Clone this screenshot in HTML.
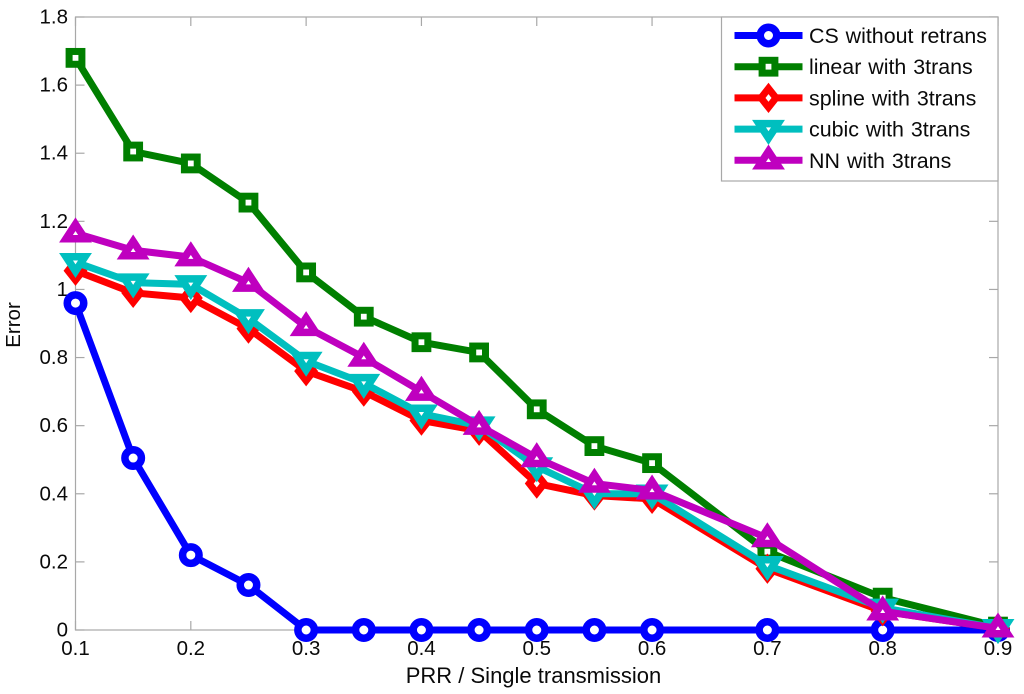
<!DOCTYPE html>
<html>
<head>
<meta charset="utf-8">
<title>Error vs PRR chart</title>
<style>
html,body{margin:0;padding:0;background:#fff;}
svg{display:block;}
text{font-family:"Liberation Sans",sans-serif;fill:#0a0a0a;}
</style>
</head>
<body>
<svg id="chart" xmlns="http://www.w3.org/2000/svg" width="1024" height="694" viewBox="0 0 1024 694">
  <rect x="0" y="0" width="1024" height="694" fill="#fff"/>
  <text x="533.5" y="683" font-size="22" text-anchor="middle">PRR / Single transmission</text>
  <text transform="translate(20,325) rotate(-90)" font-size="20.5" text-anchor="middle">Error</text>
</svg>
<script>
const xValues = [0.1,0.15,0.2,0.25,0.3,0.35,0.4,0.45,0.5,0.55,0.6,0.7,0.8,0.9];
const csValues = [0.96,0.505,0.22,0.132,0,0,0,0,0,0,0,0,0,0];
const linearValues = [1.68,1.405,1.37,1.255,1.05,0.92,0.845,0.815,0.648,0.54,0.49,0.23,0.095,0.01];
const splineValues = [1.055,0.99,0.975,0.885,0.76,0.70,0.615,0.585,0.43,0.395,0.385,0.18,0.055,0.005];
const cubicValues = [1.08,1.02,1.015,0.915,0.79,0.725,0.635,0.60,0.48,0.40,0.40,0.19,0.065,0.005];
const nnValues = [1.165,1.115,1.095,1.02,0.89,0.80,0.70,0.60,0.505,0.43,0.41,0.27,0.055,0.005];
const xTicks = [0.1,0.2,0.3,0.4,0.5,0.6,0.7,0.8,0.9];
const yTicks = [0,0.2,0.4,0.6,0.8,1,1.2,1.4,1.6,1.8];
const seriesNames = ["CS without retrans","linear with 3trans","spline with 3trans","cubic with 3trans","NN with 3trans"];
const seriesValues = [csValues,linearValues,splineValues,cubicValues,nnValues];
const seriesColors = ["#0000ff","#007f00","#ff0000","#00bfbf","#bf00bf"];
const seriesKeys = ["cs","linear","spline","cubic","nn"];

const NS = "http://www.w3.org/2000/svg";
const svg = document.getElementById("chart");
const L = 75.5, R = 998, T = 17, B = 630;
const xScale = v => L + (v - 0.1) / 0.8 * (R - L);
const yScale = v => B - v / 1.8 * (B - T);

function mk(tag, attrs, parent) {
  const el = document.createElementNS(NS, tag);
  for (const k in attrs) el.setAttribute(k, attrs[k]);
  (parent || svg).appendChild(el);
  return el;
}

function drawMarker(kind, cx, cy, color, parent) {
  const base = {fill: "#fff", stroke: color, "stroke-width": 7.5, "stroke-miterlimit": 10};
  let el;
  if (kind === "cs") {
    el = mk("circle", Object.assign({cx: cx, cy: cy, r: 8.25}, base), parent);
  } else if (kind === "linear") {
    el = mk("rect", Object.assign({x: cx - 6.4, y: cy - 6.4, width: 12.8, height: 12.8}, base, {"stroke-width": 7}), parent);
  } else if (kind === "spline") {
    el = mk("polygon", Object.assign({points: [cx, cy - 9.5, cx + 7.5, cy, cx, cy + 9.5, cx - 7.5, cy].join(" ")}, base, {"stroke-width": 7}), parent);
  } else if (kind === "cubic") {
    el = mk("polygon", Object.assign({points: [cx, cy + 9, cx + 9.5, cy - 5.5, cx - 9.5, cy - 5.5].join(" ")}, base), parent);
  } else {
    el = mk("polygon", Object.assign({points: [cx, cy - 9, cx + 9.5, cy + 5.5, cx - 9.5, cy + 5.5].join(" ")}, base), parent);
  }
  
  
  return el;
}

/* axes box */
const axesBox = mk("rect", {x: L, y: T, width: R - L, height: B - T, fill: "none", stroke: "#a8a8a8", "stroke-width": 1.2});



/* x ticks and labels */
xTicks.forEach(t => {
  const x = xScale(t);
  [[B, B - 9], [T, T + 9]].forEach(p => {
    const tick = mk("line", {x1: x, x2: x, y1: p[0], y2: p[1], stroke: "#a8a8a8", "stroke-width": 1.2});
    
    
  });
  const label = mk("text", {x: x, y: 655, "font-size": 20.5, "text-anchor": "middle"});
  label.textContent = String(t);
  
  
});

/* y ticks and labels */
yTicks.forEach(t => {
  const y = yScale(t);
  [[L, L + 9], [R, R - 9]].forEach(p => {
    const tick = mk("line", {x1: p[0], x2: p[1], y1: y, y2: y, stroke: "#a8a8a8", "stroke-width": 1.2});
    
    
  });
  const label = mk("text", {x: 68, y: y + 6.5, "font-size": 20.5, "text-anchor": "end"});
  label.textContent = String(t);
  
  
});

/* series */
seriesValues.forEach((vals, i) => {
  const g = mk("g", {});
  
  
  const pts = vals.map((v, j) => xScale(xValues[j]) + "," + yScale(v)).join(" ");
  const line = mk("polyline", {points: pts, fill: "none", stroke: seriesColors[i], "stroke-width": 7, "stroke-linejoin": "miter"}, g);
  
  
  vals.forEach((v, j) => drawMarker(seriesKeys[i], xScale(xValues[j]), yScale(v), seriesColors[i], g));
});

/* legend */
const legend = mk("g", {});


const legendBox = mk("rect", {x: 721.5, y: 17, width: 276.5, height: 164, fill: "#fff", stroke: "#a8a8a8", "stroke-width": 1.2}, legend);


const legendStep = 31.2;
seriesNames.forEach((name, i) => {
  const y = 35.5 + i * legendStep;
  const entry = mk("g", {}, legend);
  
  
  const sw = mk("line", {x1: 734.5, x2: 802.5, y1: y, y2: y, stroke: seriesColors[i], "stroke-width": 7}, entry);
  
  
  drawMarker(seriesKeys[i], 768.5, y, seriesColors[i], entry);
  const t = mk("text", {x: 809, y: y + 7.5, "font-size": 21.4, "word-spacing": 1}, entry);
  t.textContent = name;
  
  
});
</script>
</body>
</html>
